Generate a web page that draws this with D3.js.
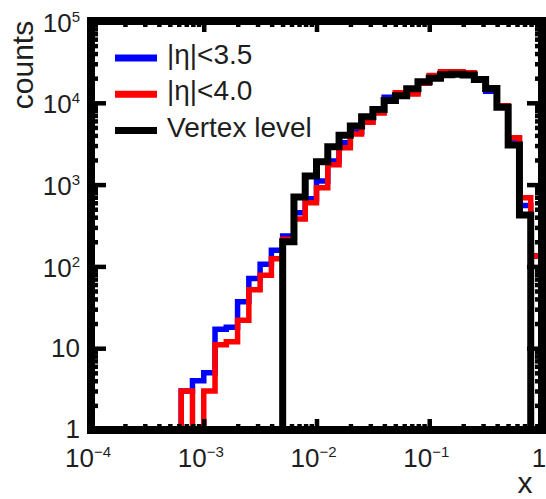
<!DOCTYPE html>
<html>
<head>
<meta charset="utf-8">
<script src="https://cdn.jsdelivr.net/npm/d3@7"></script>
<style>
  html, body { margin: 0; padding: 0; background: #fff; }
  svg { display: block; font-family: "Liberation Sans", Arial, sans-serif; }
</style>
</head>
<body>
<svg id="chart" width="546" height="499"></svg>
<script>
// Bin edges (log10 of x), ten bins per decade from 1e-4 to 1
const binExp = [-4.0, -3.9, -3.8, -3.7, -3.6, -3.5, -3.4, -3.3, -3.2, -3.1,
                -3.0, -2.9, -2.8, -2.7, -2.6, -2.5, -2.4, -2.3, -2.2, -2.1,
                -2.0, -1.9, -1.8, -1.7, -1.6, -1.5, -1.4, -1.3, -1.2, -1.1,
                -1.0, -0.9, -0.8, -0.7, -0.6, -0.5, -0.4, -0.3, -0.2, -0.1, 0.0];

// Counts per bin
const countsEta35 = [0, 0, 0, 0, 0, 0, 0, 0, 3, 4,
                     5, 17, 18, 37, 71, 106, 158, 235, 453, 673,
                     1107, 1940, 3250, 4400, 5900, 7900, 11700, 13000, 13500, 17500,
                     21000, 23500, 23500, 23000, 19200, 13800, 9000, 3600, 555, 134];
const countsEta40 = [0, 0, 0, 0, 0, 0, 0, 0, 3, 0,
                     3, 11, 12, 22, 52, 78, 124, 215, 380, 600,
                     918, 1750, 2830, 4150, 5780, 7500, 10500, 13300, 12800, 17500,
                     21500, 24000, 24000, 23300, 19500, 14800, 9200, 3740, 690, 134];
const countsVertex = [0, 0, 0, 0, 0, 0, 0, 0, 0, 0,
                      0, 0, 0, 0, 0, 0, 0, 200, 705, 1275,
                      1905, 2900, 4000, 5200, 6760, 8300, 10700, 12200, 14900, 18100,
                      20000, 22100, 22300, 21900, 19300, 15000, 8800, 3050, 425, 0];

const seriesNames = ["|η|<3.5", "|η|<4.0", "Vertex level"];
const seriesColors = ["#0000ff", "#ff0000", "#000000"];

const xTickValues = [1e-4, 1e-3, 1e-2, 1e-1, 1];
const xTickBases = ["10", "10", "10", "10", "1"];
const xTickExps = ["−4", "−3", "−2", "−1", ""];
const yTickValues = [1, 10, 100, 1000, 10000, 100000];
const yTickBases = ["1", "10", "10", "10", "10", "10"];
const yTickExps = ["", "", "2", "3", "4", "5"];

const svg = d3.select("#chart");
const plotLeft = 91, plotRight = 542, plotTop = 21, plotBottom = 430;

const x = d3.scaleLog().domain([1e-4, 1]).range([plotLeft, plotRight]);
const y = d3.scaleLog().domain([1, 1e5]).range([plotBottom, plotTop]);

const edges = binExp.map(e => Math.pow(10, e));

// Outline of a histogram: up and down at every bin edge, empty bins on the floor
function stepPoints(vals) {
  const pts = [[edges[0], 1]];
  vals.forEach((v, i) => {
    const vv = Math.max(v, 1);
    pts.push([edges[i], vv], [edges[i + 1], vv]);
  });
  pts.push([edges[edges.length - 1], 1]);
  return pts;
}

const line = d3.line().x(d => x(d[0])).y(d => y(d[1]));

const allSeries = [countsEta35, countsEta40, countsVertex];
const widths = [5.5, 5.5, 7];

const plot = svg.append("g");
allSeries.forEach((vals, i) => {
  plot.append("path")
    .attr("d", line(stepPoints(vals)))
    .attr("fill", "none")
    .attr("stroke", seriesColors[i])
    .attr("stroke-width", widths[i])
    .attr("stroke-linejoin", "miter")
    .attr("stroke-linecap", "butt");
});

// Minor tick values
const xMinor = [];
[-4, -3, -2, -1].forEach(p => { for (let m = 2; m <= 9; m++) xMinor.push(m * Math.pow(10, p)); });
const yMinor = [];
[0, 1, 2, 3, 4].forEach(p => { for (let m = 2; m <= 9; m++) yMinor.push(m * Math.pow(10, p)); });

function tickGroup(axis, transform) {
  const g = svg.append("g").attr("transform", transform).call(axis);
  g.select(".domain").remove();
  g.selectAll(".tick line").attr("stroke", "#000").attr("stroke-width", 4.5);
  g.selectAll(".tick text").remove();
  return g;
}

// Ticks on all four sides, pointing inward
tickGroup(d3.axisBottom(x).tickValues(xTickValues).tickSize(-11).tickFormat(""), `translate(0,${plotBottom})`);
tickGroup(d3.axisBottom(x).tickValues(xMinor).tickSize(-6).tickFormat(""), `translate(0,${plotBottom})`);
tickGroup(d3.axisTop(x).tickValues(xTickValues).tickSize(-11).tickFormat(""), `translate(0,${plotTop})`);
tickGroup(d3.axisTop(x).tickValues(xMinor).tickSize(-6).tickFormat(""), `translate(0,${plotTop})`);
tickGroup(d3.axisLeft(y).tickValues(yTickValues).tickSize(-15).tickFormat(""), `translate(${plotLeft},0)`);
tickGroup(d3.axisLeft(y).tickValues(yMinor).tickSize(-7).tickFormat(""), `translate(${plotLeft},0)`);
tickGroup(d3.axisRight(y).tickValues(yTickValues).tickSize(-15).tickFormat(""), `translate(${plotRight},0)`);
tickGroup(d3.axisRight(y).tickValues(yMinor).tickSize(-7).tickFormat(""), `translate(${plotRight},0)`);

// Frame
svg.append("rect")
  .attr("x", plotLeft).attr("y", plotTop)
  .attr("width", plotRight - plotLeft).attr("height", plotBottom - plotTop)
  .attr("fill", "none").attr("stroke", "#000").attr("stroke-width", 8)
  .attr("stroke-linejoin", "miter");

const textColor = "#1e1e1e";

// X tick labels
xTickValues.forEach((v, i) => {
  const t = svg.append("text")
    .attr("x", x(v) - 3).attr("y", plotBottom + 36.5)
    .attr("text-anchor", "middle")
    .attr("font-size", 26).attr("fill", textColor);
  t.append("tspan").text(xTickBases[i]);
  if (xTickExps[i]) t.append("tspan").attr("dy", -10).attr("font-size", 15).text(xTickExps[i]);
});

// Y tick labels
yTickValues.forEach((v, i) => {
  const t = svg.append("text")
    .attr("x", 80).attr("y", y(v) + (yTickExps[i] ? 10.5 : (v === 1 ? 7.5 : 9)))
    .attr("text-anchor", "end")
    .attr("font-size", 26).attr("fill", textColor);
  t.append("tspan").text(yTickBases[i]);
  if (yTickExps[i]) t.append("tspan").attr("dy", -10).attr("font-size", 15).text(yTickExps[i]);
});

// Axis titles
svg.append("text")
  .attr("transform", "translate(33,65) rotate(-90)")
  .attr("text-anchor", "middle")
  .attr("font-size", 30).attr("fill", textColor)
  .text("counts");
svg.append("text")
  .attr("x", 525).attr("y", 493)
  .attr("text-anchor", "middle")
  .attr("font-size", 30).attr("fill", textColor)
  .text("x");

// Legend
const legend = svg.append("g");
seriesNames.forEach((name, i) => {
  const base = 64 + i * 36.3;
  legend.append("line")
    .attr("x1", 115).attr("x2", 157)
    .attr("y1", base - 6).attr("y2", base - 6)
    .attr("stroke", seriesColors[i]).attr("stroke-width", 7);
  legend.append("text")
    .attr("x", 167).attr("y", base)
    .attr("font-size", 28).attr("fill", textColor)
    .text(name);
});
</script>
</body>
</html>
